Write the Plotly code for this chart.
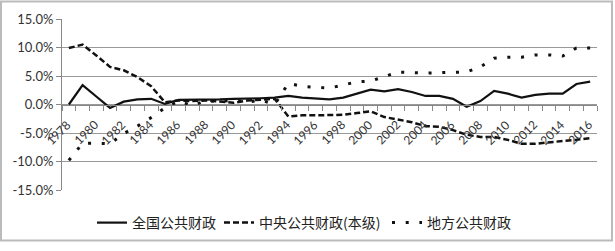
import plotly.graph_objects as go

years = [str(y) for y in range(1978, 2017)]

national = [0.0, 3.4, 1.4, -0.6, 0.5, 0.9, 1.0, 0.1, 0.8, 0.8,
            0.9, 0.9, 1.0, 1.0, 1.1, 1.2, 1.5, 1.2, 1.0, 0.9,
            1.2, 1.9, 2.6, 2.3, 2.7, 2.2, 1.5, 1.5, 1.0, -0.4,
            0.6, 2.4, 1.9, 1.2, 1.7, 1.9, 1.9, 3.6, 4.0]

central = [9.9, 10.5, 8.6, 6.6, 6.0, 4.8, 3.2, 0.4, 0.7, 0.6,
           0.7, 0.5, 0.3, 0.7, 0.9, 1.0, -2.1, -1.9, -1.9, -1.8,
           -1.8, -1.5, -1.2, -2.2, -2.7, -3.1, -3.8, -3.9, -4.5, -5.3,
           -5.7, -5.7, -6.2, -6.9, -6.9, -6.6, -6.4, -6.2, -5.9]

local = [-9.8, -6.8, -6.8, -6.9, -5.1, -3.8, -2.3, -0.6, 0.6, -0.2,
         0.7, 0.5, 0.8, 0.4, 0.8, 0.0, 3.7, 3.2, 3.0, 2.9,
         3.4, 4.0, 4.1, 4.9, 5.7, 5.6, 5.5, 5.6, 5.7, 5.7,
         6.6, 8.1, 8.3, 8.3, 8.7, 8.7, 8.5, 9.9, 9.9]

names = ["全国公共财政", "中央公共财政(本级)", "地方公共财政"]

y_ticks = [15, 10, 5, 0, -5, -10, -15]
y_labels = ["15.0%", "10.0%", "5.0%", "0.0%", "-5.0%", "-10.0%", "-15.0%"]
x_label_years = [y for y in years if int(y) % 2 == 0]

fig = go.Figure()
fig.add_trace(go.Scatter(x=years, y=national, name=names[0], mode="lines",
                         legend="legend",
                         line=dict(color="#111111", width=2.2)))
fig.add_trace(go.Scatter(x=years, y=central, name=names[1], mode="lines",
                         legend="legend2",
                         line=dict(color="#111111", width=2.5, dash="6px,3px")))
fig.add_trace(go.Scatter(x=years, y=local, name=names[2], mode="lines",
                         legend="legend3",
                         line=dict(color="#111111", width=3, dash="3px,10.7px")))

leg_font = dict(family="'Noto Sans CJK SC', sans-serif", size=14, color="#222222")
def leg(xp):
    return dict(orientation="h", x=xp, xanchor="left", y=-0.193, yanchor="middle",
                font=leg_font, itemwidth=30, bgcolor="rgba(0,0,0,0)")

annotations = [dict(x=years.index(y), y=-4.85, xref="x", yref="y", text=y, textangle=-45,
                    showarrow=False, xanchor="center", yanchor="middle", xshift=-10.5,
                    font=dict(family="Lato, 'Liberation Sans', sans-serif", size=12,
                              color="#333333"))
               for y in x_label_years]

fig.update_layout(
    width=615, height=251,
    margin=dict(l=62, r=18, t=19, b=56),
    paper_bgcolor="white", plot_bgcolor="white",
    font=dict(family="Lato, 'Liberation Sans', sans-serif", size=12, color="#333333"),
    showlegend=True,
    legend=leg((92 - 62) / 535),
    legend2=leg((219 - 62) / 535),
    legend3=leg((387 - 62) / 535),
    xaxis=dict(type="category", tickmode="array", tickvals=years,
               range=[-0.5, len(years) - 0.5], autorange=False,
               showticklabels=False, anchor="free", position=0.5,
               showline=True, linecolor="#888888", linewidth=1,
               ticks="outside", tickson="boundaries", ticklen=5, tickcolor="#888888",
               showgrid=False, zeroline=False),
    yaxis=dict(range=[-15, 15], autorange=False, tickmode="array",
               tickvals=y_ticks, ticktext=y_labels,
               showline=True, linecolor="#888888", linewidth=1,
               ticks="outside", ticklen=5, tickcolor="#888888",
               showgrid=True, gridcolor="#999999", gridwidth=1, zeroline=False,
               tickfont=dict(size=13, color="#333333")),
    annotations=annotations,
    shapes=[dict(type="rect", xref="paper", yref="paper",
                 x0=-0.114, x1=1.028, y0=-0.295, y1=1.102,
                 line=dict(color="#bbbbbb", width=2), fillcolor="rgba(0,0,0,0)",
                 layer="below")],
)

fig.write_html("out.html")
